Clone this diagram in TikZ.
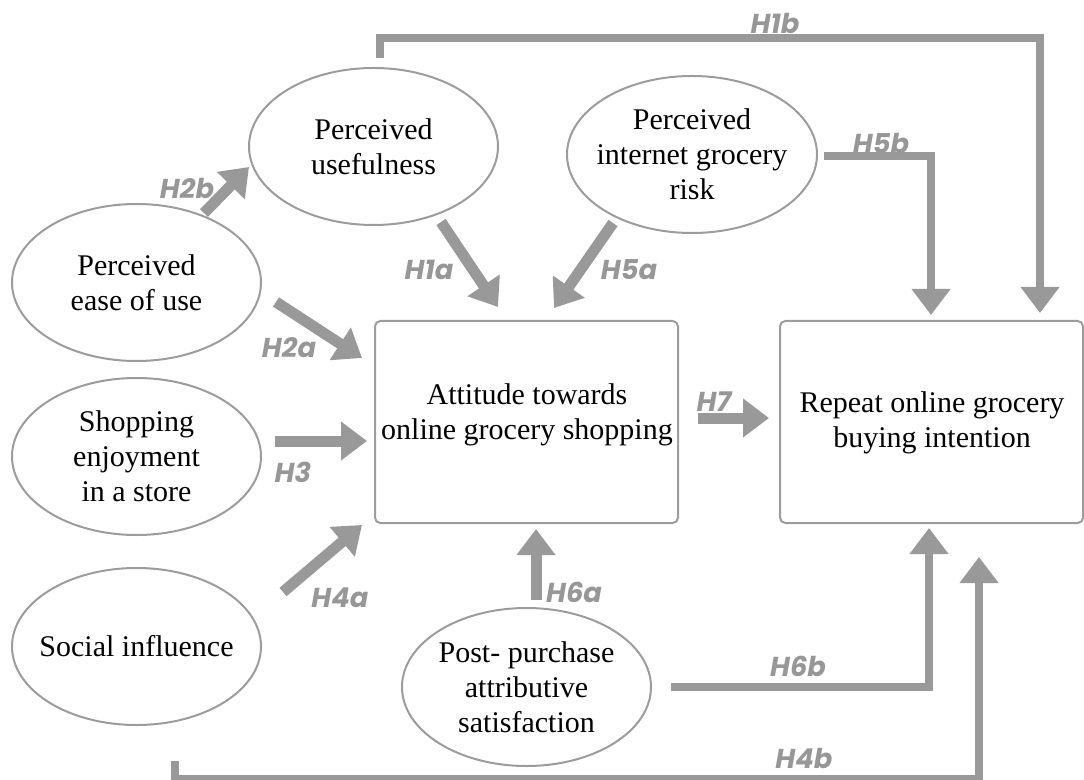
\documentclass[tikz,border=0pt]{standalone}
\usepackage{fontspec}
\setmainfont{Liberation Serif}
\newfontfamily\hypfont{Poppins}
\usetikzlibrary{arrows.meta,shapes.geometric}
\definecolor{arrowgray}{HTML}{999999}
\definecolor{linegray}{HTML}{9C9C9C}
\definecolor{labelgray}{HTML}{979797}

\begin{document}
\begin{tikzpicture}[x=0.75pt,y=-0.75pt,
  construct/.style={ellipse,draw=linegray,line width=1.5pt,
    minimum width=249*0.75pt,minimum height=157*0.75pt,
    inner xsep=-30pt,inner ysep=0pt,
    align=center,font=\fontsize{22.5pt}{26.25pt}\selectfont},
  stage/.style={rectangle,rounded corners=4pt,draw=linegray,line width=1.5pt,
    minimum width=303*0.75pt,minimum height=202*0.75pt,inner sep=0pt},
  stagetext/.style={align=center,inner sep=0pt,
    font=\fontsize{22.5pt}{26.25pt}\selectfont},
  link/.style={draw=arrowgray,line width=8.25pt,
    -{Triangle[length=19.5pt,width=28pt]}},
  elbow/.style={link,line width=6pt,line join=miter},
  hyp/.style={text=labelgray,inner sep=0pt,
    font=\hypfont\bfseries\itshape\fontsize{20.5pt}{20.5pt}\selectfont}
]
\useasboundingbox (0,0) rectangle (1084,780);

% constructs
\node[construct] (pu) at (373.5,146.5) {Perceived\\usefulness};
\node[construct,minimum width=250*0.75pt] (pr) at (692,154.5) {Perceived\\internet grocery\\risk};
\node[construct] (pe) at (136.5,282.5) {Perceived\\ease of use};
\node[construct] (se) at (136.5,456.5) {Shopping\\enjoyment\\in a store};
\node[construct] (si) at (136.5,646.5) {Social influence};
\node[construct,minimum height=158*0.75pt] (pp) at (526.5,687) {Post- purchase\\attributive\\satisfaction};

% outcome boxes
\node[stage] (att) at (526.5,422) {};
\node[stage] (rep) at (931.5,422) {};
\node[stagetext] (att-t) at (527,415) {Attitude towards\\online grocery shopping};
\node[stagetext] (rep-t) at (932,423) {Repeat online grocery\\buying intention};

% arrow end points
\coordinate (h2b-s) at (204,213);  \coordinate (h2b-e) at (249,167);
\coordinate (h1a-s) at (441,222);  \coordinate (h1a-e) at (498,307);
\coordinate (h5a-s) at (613,223);  \coordinate (h5a-e) at (554,308);
\coordinate (h2a-s) at (276,302);  \coordinate (h2a-e) at (362,358);
\coordinate (h3-s)  at (275,441);  \coordinate (h3-e)  at (367,441);
\coordinate (h4a-s) at (283,592);  \coordinate (h4a-e) at (362,525);
\coordinate (h6a-s) at (536,600);  \coordinate (h6a-e) at (536,529);
\coordinate (h7-s)  at (698,418);  \coordinate (h7-e)  at (769,418);
\coordinate (h1b-s) at (380,58);   \coordinate (h1b-e) at (1040,313);
\coordinate (h1b-top) at (0,38);
\coordinate (h5b-s) at (824,156.5);\coordinate (h5b-e) at (931,315);
\coordinate (h6b-s) at (671,687);  \coordinate (h6b-e) at (929,528);
\coordinate (h4b-s) at (175,761);  \coordinate (h4b-e) at (979,557);
\coordinate (h4b-bot) at (0,779);

% straight paths
\draw[link] (h2b-s) -- (h2b-e);
\draw[link] (h1a-s) -- (h1a-e);
\draw[link] (h5a-s) -- (h5a-e);
\draw[link] (h2a-s) -- (h2a-e);
\draw[link] (h3-s) -- (h3-e);
\draw[link] (h4a-s) -- (h4a-e);
\draw[link] (h6a-s) -- (h6a-e);
\draw[link] (h7-s) -- (h7-e);

% elbow paths
\draw[elbow] (h1b-s) -- (h1b-s |- h1b-top) -- (h1b-e |- h1b-top) -- (h1b-e);
\draw[elbow] (h5b-s) -| (h5b-e);
\draw[elbow] (h6b-s) -| (h6b-e);
\draw[elbow] (h4b-s) -- (h4b-s |- h4b-bot) -- (h4b-e |- h4b-bot) -- (h4b-e);

% hypothesis labels
\node[hyp] (l1b) at (775,24)  {H1b};
\node[hyp] (l2b) at (187,188) {H2b};
\node[hyp] (l1a) at (429,270) {H1a};
\node[hyp] (l5b) at (881,143) {H5b};
\node[hyp] (l5a) at (629,270) {H5a};
\node[hyp] (l2a) at (289,348) {H2a};
\node[hyp] (l7)  at (714,402) {H7};
\node[hyp] (l3)  at (293,472) {H3};
\node[hyp] (l4a) at (340,598) {H4a};
\node[hyp] (l6a) at (574,592) {H6a};
\node[hyp] (l6b) at (798,666) {H6b};
\node[hyp] (l4b) at (804,758) {H4b};
\end{tikzpicture}
\end{document}
